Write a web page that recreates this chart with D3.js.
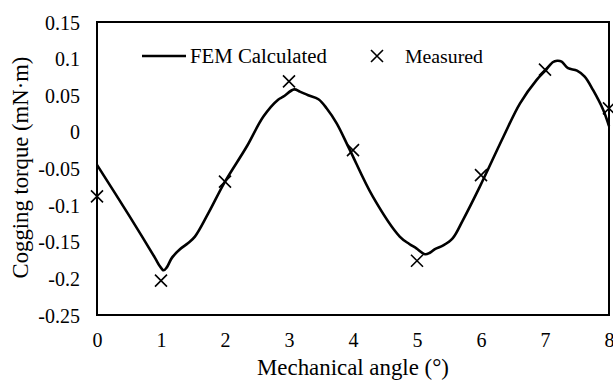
<!DOCTYPE html>
<html>
<head>
<meta charset="utf-8">
<script src="https://cdn.jsdelivr.net/npm/d3@7/dist/d3.min.js"></script>
<style>
  html, body { margin: 0; padding: 0; background: #fff; }
  svg { display: block; }
  svg text { fill: #000; }
</style>
</head>
<body>
<svg id="chart" width="613" height="381"></svg>
<script>
// ---- data ----
const femAngle = [0, 0.5, 0.906, 0.98, 1.04, 1.09, 1.17, 1.30, 1.42, 1.53, 1.74, 2.0, 2.34, 2.60, 2.83, 2.91, 3.08, 3.17, 3.30, 3.46, 3.59, 3.745, 3.95, 4.31, 4.73, 4.88, 4.99, 5.125, 5.20, 5.28, 5.41, 5.56, 5.72, 5.98, 6.35, 6.61, 6.87, 7.02, 7.12, 7.19, 7.26, 7.36, 7.50, 7.62, 7.75, 7.91, 8.0];
const femTorque = [-0.045, -0.114, -0.172, -0.183, -0.189, -0.185, -0.172, -0.160, -0.152, -0.143, -0.111, -0.068, -0.020, 0.021, 0.044, 0.048, 0.058, 0.055, 0.050, 0.0445, 0.032, 0.0117, -0.0246, -0.0885, -0.143, -0.153, -0.159, -0.167, -0.165, -0.160, -0.155, -0.145, -0.120, -0.075, -0.0066, 0.039, 0.071, 0.085, 0.095, 0.097, 0.0959, 0.0869, 0.0836, 0.0754, 0.0572, 0.0299, 0.008];
const measAngle = [0, 1, 2, 3, 4, 5, 6, 7, 8];
const measTorque = [-0.088, -0.203, -0.068, 0.069, -0.025, -0.176, -0.059, 0.085, 0.032];
const xTicks = [0, 1, 2, 3, 4, 5, 6, 7, 8];
const yTicks = [0.15, 0.1, 0.05, 0, -0.05, -0.1, -0.15, -0.2, -0.25];
const yTickLabels = ["0.15", "0.1", "0.05", "0", "-0.05", "-0.1", "-0.15", "-0.2", "-0.25"];
const legendLabels = ["FEM Calculated", "Measured"];
const xTitle = "Mechanical angle (°)";
const yTitle = "Cogging torque (mN·m)";

// ---- layout ----
const FONT = "'Liberation Serif', 'DejaVu Serif', serif";
const svg = d3.select("#chart").attr("font-family", FONT);
const pL = 97, pT = 22, pR = 609, pB = 315;
const x = d3.scaleLinear().domain([0, 8]).range([pL, pR]);
const y = d3.scaleLinear().domain([-0.25, 0.15]).range([pB, pT]);

// scale a text's font-size so that it spans the target width
function fit(sel, base, target) {
  sel.attr("font-size", base);
  const w = sel.node().getComputedTextLength();
  if (w > 0) sel.attr("font-size", base * target / w);
}

// frame
svg.append("rect")
  .attr("x", pL).attr("y", pT)
  .attr("width", pR - pL).attr("height", pB - pT)
  .attr("fill", "none").attr("stroke", "#000").attr("stroke-width", 2);

// axes (labels only)
const xAxis = d3.axisBottom(x).tickValues(xTicks).tickSize(0).tickPadding(0).tickFormat(d3.format("d"));
const gx = svg.append("g").attr("transform", `translate(0,${pB})`).call(xAxis)
  .attr("font-family", FONT).attr("font-size", 18);
gx.select(".domain").remove();
gx.selectAll("text").attr("dy", null).attr("y", 32);

const yAxis = d3.axisLeft(y).tickValues(yTicks).tickSize(0).tickPadding(17)
  .tickFormat((d, i) => yTickLabels[i]);
const gy = svg.append("g").attr("transform", `translate(${pL},0)`).call(yAxis)
  .attr("font-family", FONT).attr("font-size", 18);
gy.select(".domain").remove();
gy.selectAll("text").attr("dy", "0.35em");
// size tick font from the width of "0.15"
{
  const t = gy.selectAll("text").filter((d, i) => i === 0);
  const w = t.node().getComputedTextLength();
  const fs = Math.min(20, 18 * 35 / w);
  gy.attr("font-size", fs); gx.attr("font-size", fs);
}

// titles
const xt = svg.append("text")
  .attr("x", (pL + pR) / 2).attr("y", 375)
  .attr("text-anchor", "middle")
  .text(xTitle);
fit(xt, 20, 192);
const yt = svg.append("text")
  .attr("transform", `translate(28,${(pT + pB) / 2 - 1}) rotate(-90)`)
  .attr("text-anchor", "middle")
  .text(yTitle);
fit(yt, 20, 222);

// FEM curve
const fem = femAngle.map((a, i) => [a, femTorque[i]]);
const line = d3.line().x(d => x(d[0])).y(d => y(d[1])).curve(d3.curveCatmullRom.alpha(0.5));
svg.append("path").datum(fem)
  .attr("d", line).attr("fill", "none").attr("stroke", "#000")
  .attr("stroke-width", 2.6).attr("stroke-linejoin", "round");

// measured crosses
const cs = 6;
const meas = measAngle.map((a, i) => [a, measTorque[i]]);
const crossPath = (cx, cy) => `M${cx - cs},${cy - cs}L${cx + cs},${cy + cs}M${cx - cs},${cy + cs}L${cx + cs},${cy - cs}`;
svg.append("g").selectAll("path").data(meas).join("path")
  .attr("d", d => crossPath(x(d[0]), y(d[1])))
  .attr("stroke", "#000").attr("stroke-width", 1.6).attr("fill", "none");

// legend
const lg = svg.append("g");
lg.append("line").attr("x1", 142).attr("x2", 186).attr("y1", 56).attr("y2", 56)
  .attr("stroke", "#000").attr("stroke-width", 2.6);
const l1 = lg.append("text").attr("x", 190).attr("y", 63).text(legendLabels[0]);
fit(l1, 20, 137);
lg.append("path").attr("d", crossPath(377, 56)).attr("stroke", "#000").attr("stroke-width", 1.6);
const l2 = lg.append("text").attr("x", 405).attr("y", 63).text(legendLabels[1]);
fit(l2, 20, 78);
</script>
</body>
</html>
